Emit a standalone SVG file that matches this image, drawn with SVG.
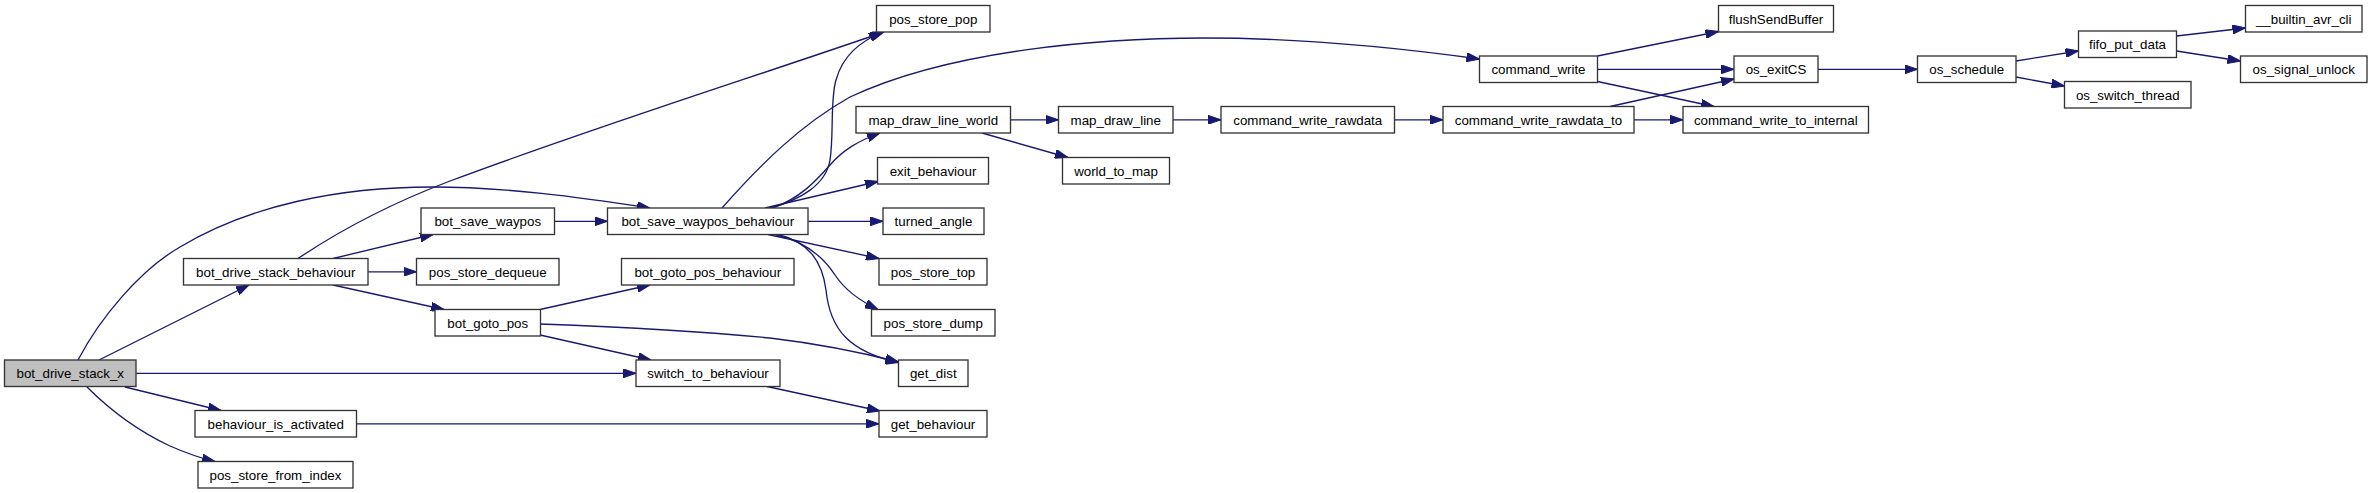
<svg xmlns="http://www.w3.org/2000/svg" width="2373" height="493" viewBox="0 0 2373 493">
<defs>
<marker id="ah" viewBox="0 0 13 9" refX="13" refY="4.5" markerWidth="13" markerHeight="9" markerUnits="userSpaceOnUse" orient="auto">
<path d="M0,0 L13,4.5 L0,9 z" fill="#191970" stroke="#191970" stroke-width="1"/>
</marker>
<style>
.n rect{fill:#ffffff;stroke:#333333;stroke-width:1.33}
.n.root rect{fill:#bfbfbf}
.n text{font-family:"Liberation Sans",Arial,sans-serif;font-size:13.33px;fill:#000000;text-anchor:middle}
#edges path{fill:none;stroke:#191970;stroke-width:1.33;marker-end:url(#ah)}
</style>
</defs>
<rect width="2373" height="493" fill="#ffffff"/>
<g id="edges">
<path d="M99,360 L249,285"/>
<path d="M78,360 C100,318 140,270 180,247 C250,205 340,187 432,187 C505,187 578,197 650,208"/>
<path d="M136,373.3 L636,373.3"/>
<path d="M125,387 L221,410.5"/>
<path d="M87,387 C110,410 140,432 170,446 C186,453 200,458 215,461.5"/>
<path d="M298,258.5 C345,227 400,200 450,181 C600,125 760,75 884,32"/>
<path d="M333,258.5 L433,234.5"/>
<path d="M368,271.8 L416.5,271.8"/>
<path d="M333,285 L444,309.5"/>
<path d="M554.5,221.3 L607.5,221.3"/>
<path d="M540,309.5 L650,285"/>
<path d="M540,324 C620,327 700,331 770,338 C820,344 860,352 898.5,362"/>
<path d="M540,335 L651,360"/>
<path d="M767,386.5 L880,411"/>
<path d="M356.5,423.8 L879,423.8"/>
<path d="M722,208 C760,165 800,125 850,97 C950,50 1100,38 1205,38 C1300,38 1400,48 1479.5,59"/>
<path d="M770,208 C800,200 826,185 830,160 C834,135 830,100 836,80 C843,55 860,42 882,32"/>
<path d="M773,208 C800,198 815,182 830,165 C843,150 858,141 880,133"/>
<path d="M765,208 L878,181.5"/>
<path d="M808,221.3 L883,221.3"/>
<path d="M768,234.5 L879,258.5"/>
<path d="M775,234.5 C800,240 820,252 835,275 C845,290 858,300 878,309.5"/>
<path d="M778,234.5 C808,242 822,260 826,290 C830,330 850,352 898.5,362.5"/>
<path d="M1010.5,119.8 L1058.5,119.8"/>
<path d="M982,133 L1068,157.5"/>
<path d="M1173,119.8 L1221,119.8"/>
<path d="M1394.5,119.8 L1443,119.8"/>
<path d="M1634,119.8 L1683,119.8"/>
<path d="M1610,106.5 L1734,79"/>
<path d="M1597.5,56 L1718.5,31.5"/>
<path d="M1597.5,69.3 L1734,69.3"/>
<path d="M1597.5,81.5 L1714,106.5"/>
<path d="M1818,69.3 L1917.5,69.3"/>
<path d="M2016,61 L2078.5,51"/>
<path d="M2016,77 L2064.5,86"/>
<path d="M2176.5,36 L2245.5,28"/>
<path d="M2176.5,51 L2240.5,61"/>
</g>
<g id="bot_drive_stack_x" class="n root"><rect x="4.5" y="360" width="131.5" height="26.5"/><text x="70.25" y="378">bot_drive_stack_x</text></g>
<g id="bot_drive_stack_behaviour" class="n"><rect x="183.5" y="258.5" width="184.5" height="26.5"/><text x="275.75" y="276.5">bot_drive_stack_behaviour</text></g>
<g id="bot_save_waypos" class="n"><rect x="421" y="208" width="133.5" height="26.5"/><text x="487.75" y="226">bot_save_waypos</text></g>
<g id="pos_store_dequeue" class="n"><rect x="416.5" y="258.5" width="142.5" height="26.5"/><text x="487.75" y="276.5">pos_store_dequeue</text></g>
<g id="bot_goto_pos" class="n"><rect x="435" y="309.5" width="105.5" height="26.5"/><text x="487.75" y="327.5">bot_goto_pos</text></g>
<g id="behaviour_is_activated" class="n"><rect x="195" y="410.5" width="161.5" height="26.5"/><text x="275.75" y="428.5">behaviour_is_activated</text></g>
<g id="pos_store_from_index" class="n"><rect x="198" y="461.5" width="155" height="26.5"/><text x="275.5" y="479.5">pos_store_from_index</text></g>
<g id="bot_save_waypos_behaviour" class="n"><rect x="607.5" y="208" width="200.5" height="26.5"/><text x="707.75" y="226">bot_save_waypos_behaviour</text></g>
<g id="bot_goto_pos_behaviour" class="n"><rect x="621.5" y="258.5" width="172.5" height="26.5"/><text x="707.75" y="276.5">bot_goto_pos_behaviour</text></g>
<g id="switch_to_behaviour" class="n"><rect x="636" y="360" width="144" height="26.5"/><text x="708" y="378">switch_to_behaviour</text></g>
<g id="pos_store_pop" class="n"><rect x="876.5" y="5.5" width="113.5" height="26.5"/><text x="933.25" y="23.5">pos_store_pop</text></g>
<g id="map_draw_line_world" class="n"><rect x="856" y="106.5" width="154.5" height="26.5"/><text x="933.25" y="124.5">map_draw_line_world</text></g>
<g id="exit_behaviour" class="n"><rect x="877.5" y="157.5" width="111" height="26.5"/><text x="933" y="175.5">exit_behaviour</text></g>
<g id="turned_angle" class="n"><rect x="883" y="208" width="101" height="26.5"/><text x="933.5" y="226">turned_angle</text></g>
<g id="pos_store_top" class="n"><rect x="879" y="258.5" width="108" height="26.5"/><text x="933" y="276.5">pos_store_top</text></g>
<g id="pos_store_dump" class="n"><rect x="871.5" y="309.5" width="123.5" height="26.5"/><text x="933.25" y="327.5">pos_store_dump</text></g>
<g id="get_dist" class="n"><rect x="898.5" y="360" width="69.5" height="26.5"/><text x="933.25" y="378">get_dist</text></g>
<g id="get_behaviour" class="n"><rect x="879" y="410.5" width="108" height="26.5"/><text x="933" y="428.5">get_behaviour</text></g>
<g id="map_draw_line" class="n"><rect x="1058.5" y="106.5" width="114.5" height="26.5"/><text x="1115.75" y="124.5">map_draw_line</text></g>
<g id="world_to_map" class="n"><rect x="1062.5" y="157.5" width="107" height="26.5"/><text x="1116" y="175.5">world_to_map</text></g>
<g id="command_write_rawdata" class="n"><rect x="1221" y="106.5" width="173.5" height="26.5"/><text x="1307.75" y="124.5">command_write_rawdata</text></g>
<g id="command_write_rawdata_to" class="n"><rect x="1443" y="106.5" width="191" height="26.5"/><text x="1538.5" y="124.5">command_write_rawdata_to</text></g>
<g id="command_write" class="n"><rect x="1479.5" y="56" width="118" height="26.5"/><text x="1538.5" y="74">command_write</text></g>
<g id="flushSendBuffer" class="n"><rect x="1718.5" y="5.5" width="115" height="26.5"/><text x="1776" y="23.5">flushSendBuffer</text></g>
<g id="os_exitCS" class="n"><rect x="1734" y="56" width="84" height="26.5"/><text x="1776" y="74">os_exitCS</text></g>
<g id="command_write_to_internal" class="n"><rect x="1683" y="106.5" width="185.5" height="26.5"/><text x="1775.75" y="124.5">command_write_to_internal</text></g>
<g id="os_schedule" class="n"><rect x="1917.5" y="56" width="98.5" height="26.5"/><text x="1966.75" y="74">os_schedule</text></g>
<g id="fifo_put_data" class="n"><rect x="2078.5" y="31" width="98" height="26.5"/><text x="2127.5" y="49">fifo_put_data</text></g>
<g id="os_switch_thread" class="n"><rect x="2064.5" y="81.5" width="126.5" height="26.5"/><text x="2127.75" y="99.5">os_switch_thread</text></g>
<g id="__builtin_avr_cli" class="n"><rect x="2245.5" y="5.5" width="116.5" height="26.5"/><text x="2303.75" y="23.5">__builtin_avr_cli</text></g>
<g id="os_signal_unlock" class="n"><rect x="2240.5" y="56" width="126.5" height="26.5"/><text x="2303.75" y="74">os_signal_unlock</text></g>
</svg>
